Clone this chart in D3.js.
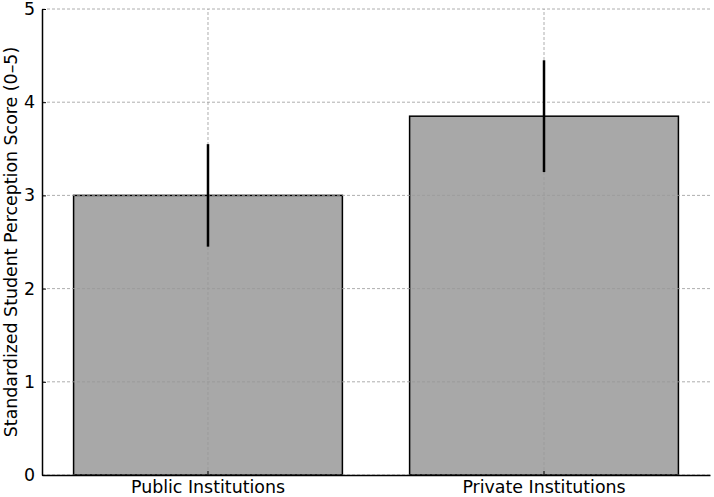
<!DOCTYPE html>
<html lang="en">
<head>
<meta charset="UTF-8">
<script src="https://d3js.org/d3.v7.min.js"></script>
<style>
  html, body { margin: 0; background: #fff; }
  svg { display: block; }
  svg text { font-family: 'DejaVu Sans', sans-serif; }
  .grid line { stroke: #999; stroke-dasharray: 3,2; stroke-width: 0.8; }
</style>
</head>
<body>
<svg width="714" height="497"></svg>
<script>
// data
const categories = ["Public Institutions", "Private Institutions"];
const scores = [3.0, 3.85];
const errors = [0.55, 0.6];
const yTicks = [0, 1, 2, 3, 4, 5];

const svg = d3.select("svg");
const margin = { left: 42, right: 4, top: 9, bottom: 22 };
const W = 714, H = 497;
const fs = 17.4;

const x = d3.scaleBand()
    .domain(categories)
    .range([margin.left, W - margin.right])
    .paddingInner(0.2)
    .paddingOuter(0.094);

const y = d3.scaleLinear()
    .domain([0, 5])
    .range([H - margin.bottom, margin.top]);

// bars
svg.append("g")
    .selectAll("rect")
    .data(categories)
    .enter().append("rect")
    .attr("x", d => x(d))
    .attr("y", (d, i) => y(scores[i]))
    .attr("width", x.bandwidth())
    .attr("height", (d, i) => y(0) - y(scores[i]))
    .attr("fill", "#a8a8a8")
    .attr("stroke", "#000")
    .attr("stroke-width", 1.5);

// grid (drawn above bars)
const grid = svg.append("g").attr("class", "grid");
grid.selectAll("line.h")
    .data(yTicks)
    .enter().append("line")
    .attr("x1", margin.left).attr("x2", W - margin.right)
    .attr("y1", d => y(d)).attr("y2", d => y(d));
grid.selectAll("line.v")
    .data(categories)
    .enter().append("line")
    .attr("x1", d => x(d) + x.bandwidth() / 2).attr("x2", d => x(d) + x.bandwidth() / 2)
    .attr("y1", y(0)).attr("y2", y(5));

// error bars
svg.append("g")
    .selectAll("line")
    .data(categories)
    .enter().append("line")
    .attr("x1", d => x(d) + x.bandwidth() / 2)
    .attr("x2", d => x(d) + x.bandwidth() / 2)
    .attr("y1", (d, i) => y(scores[i] - errors[i]))
    .attr("y2", (d, i) => y(scores[i] + errors[i]))
    .attr("stroke", "#000")
    .attr("stroke-width", 2.5);

// axes
const yAxis = svg.append("g")
    .attr("transform", `translate(${margin.left},0)`)
    .call(d3.axisLeft(y).tickValues(yTicks).tickFormat(d3.format("d"))
        .tickSizeInner(-4).tickSizeOuter(0).tickPadding(7));
yAxis.select(".domain").attr("stroke-width", 1.5);
yAxis.selectAll("text").attr("font-size", fs).attr("fill", "#000");

const xAxis = svg.append("g")
    .attr("transform", `translate(0,${y(0)})`)
    .call(d3.axisBottom(x).tickSizeInner(-4).tickSizeOuter(0).tickPadding(6));
xAxis.select(".domain").attr("stroke-width", 1.5);
xAxis.selectAll("text").attr("font-size", fs).attr("fill", "#000");

svg.append("text")
    .attr("transform", `translate(17,${(y(0) + y(5)) / 2}) rotate(-90)`)
    .attr("text-anchor", "middle")
    .attr("font-size", fs)
    .text("Standardized Student Perception Score (0–5)");
</script>
</body>
</html>
